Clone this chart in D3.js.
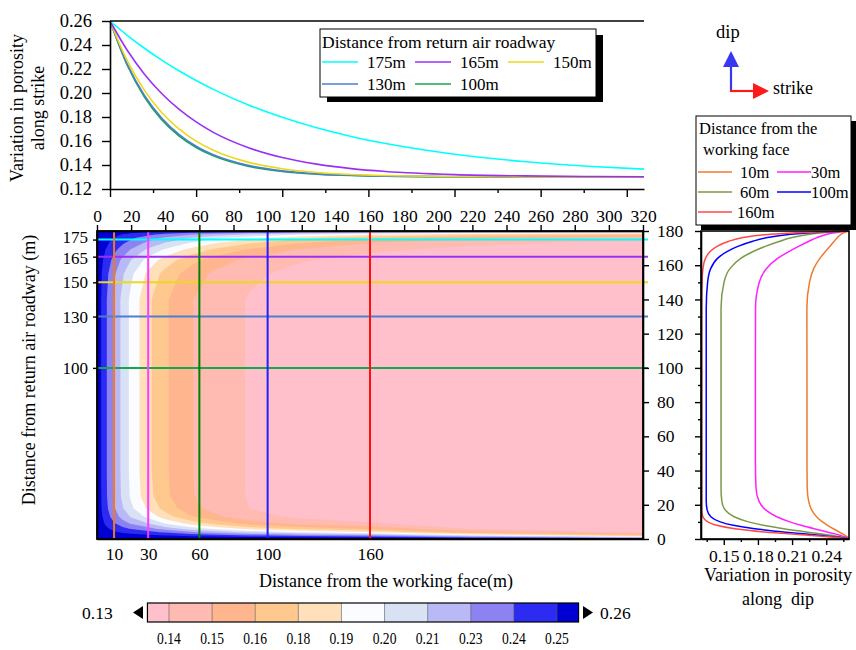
<!DOCTYPE html>
<html>
<head>
<meta charset="utf-8">
<script src="https://cdn.jsdelivr.net/npm/d3@7"></script>
<style>
  body { margin: 0; background: #fff; }
  text { font-family: "Liberation Serif", "Times New Roman", serif; fill: #000; }
</style>
</head>
<body>
<svg id="chart" width="856" height="650"></svg>
<script>
// ---- data ----
// porosity along strike (top panel), x = distance from working face (m)
var strikeX = [0, 10, 20, 30, 40, 50, 60, 80, 100, 120, 140, 160, 200, 240, 280, 310];
var strike175 = [.26, .2481, .2373, .2274, .2185, .2104, .2030, .1902, .1797, .1710, .1638, .1579, .1490, .1429, .1388, .1366];
var strike165 = [.26, .2356, .2157, .1996, .1865, .1759, .1672, .1546, .1462, .1407, .1370, .1346, .1320, .1309, .1304, .1302];
var strike150 = [.26, .2269, .2022, .1838, .1701, .1599, .1523, .1424, .1369, .1338, .1321, .1312, .1304, .1301, .1300, .1300];
var strike130 = [.26, .2240, .1979, .1791, .1655, .1556, .1485, .1397, .1351, .1326, .1314, .1307, .1302, .1300, .1300, .1300];
var strike100 = [.26, .2231, .1967, .1778, .1643, .1546, .1476, .1390, .1346, .1324, .1312, .1306, .1302, .1300, .1300, .1300];

// porosity along dip (right panel), y = distance from return air roadway (m)
var dipY = [0, 1, 2, 3, 4, 6, 8, 10, 13, 17, 22, 30, 45, 90, 135, 150, 158, 164, 168, 171, 174, 176, 178, 179, 180];
var dip10  = [.26, .2589, .2568, .2544, .2517, .2463, .2412, .2367, .2315, .2272, .2246, .2233, .2231, .2231, .2230, .2253, .2290, .2344, .2393, .2431, .2470, .2496, .2529, .2555, .26];
var dip30  = [.26, .2575, .2529, .2476, .2416, .2294, .2180, .2081, .1965, .1868, .1810, .1783, .1778, .1778, .1779, .1812, .1874, .1973, .2072, .2157, .2248, .2312, .2400, .2474, .26];
var dip60  = [.26, .2547, .2455, .2349, .2237, .2026, .1849, .1717, .1591, .1513, .1483, .1476, .1476, .1476, .1476, .1502, .1554, .1649, .1758, .1865, .1992, .2091, .2239, .2370, .26];
var dip100 = [.26, .2511, .2365, .2202, .2043, .1772, .1584, .1469, .1386, .1354, .1346, .1346, .1346, .1346, .1346, .1358, .1385, .1445, .1528, .1624, .1755, .1873, .2070, .2259, .26];
var dip160 = [.26, .2475, .2277, .2070, .1881, .1598, .1437, .1359, .1317, .1306, .1306, .1306, .1306, .1306, .1306, .1309, .1317, .1339, .1380, .1441, .1545, .1659, .1890, .2136, .26];

// porosity field for the contour map: rows = gridY, columns = gridX
var gridX = [0, 2, 5, 10, 15, 20, 30, 40, 55, 70, 90, 120, 160, 220, 320];
var gridY = [0, 1, 2, 4, 6, 9, 13, 18, 25, 40, 140, 155, 163, 169, 173, 176, 178, 179, 180];
var porosityGrid = [
  [.26, .26, .26, .26, .26, .26, .26, .26, .26, .26, .26, .26, .26, .26, .26],
  [.26, .2597, .2594, .2589, .2584, .2580, .2575, .2566, .2552, .2540, .2521, .2499, .2476, .2362, .2159],
  [.26, .2593, .2583, .2568, .2556, .2546, .2529, .2505, .2469, .2437, .2389, .2336, .2278, .2033, .1703],
  [.26, .2581, .2555, .2517, .2485, .2458, .2416, .2355, .2270, .2195, .2091, .1986, .1881, .1558, .1347],
  [.26, .2569, .2526, .2463, .2410, .2365, .2294, .2198, .2071, .1966, .1830, .1707, .1599, .1367, .1303],
  [.26, .2552, .2485, .2388, .2306, .2237, .2128, .1995, .1831, .1708, .1571, .1463, .1390, .1306, .1300],
  [.26, .2535, .2446, .2315, .2205, .2111, .1965, .1811, .1640, .1525, .1420, .1351, .1317, .1301, .1300],
  [.26, .2524, .2418, .2264, .2134, .2024, .1851, .1699, .1543, .1447, .1373, .1326, .1307, .1301, .1300],
  [.26, .2518, .2404, .2238, .2098, .1979, .1794, .1652, .1512, .1428, .1365, .1324, .1306, .1301, .1300],
  [.26, .2516, .2400, .2231, .2088, .1967, .1778, .1643, .1508, .1426, .1365, .1324, .1306, .1301, .1300],
  [.26, .2516, .2400, .2231, .2088, .1967, .1778, .1643, .1508, .1426, .1365, .1324, .1306, .1301, .1300],
  [.26, .2527, .2424, .2272, .2141, .2027, .1844, .1706, .1563, .1470, .1395, .1340, .1312, .1302, .1300],
  [.26, .2542, .2459, .2334, .2222, .2122, .1953, .1819, .1668, .1561, .1465, .1383, .1333, .1308, .1301],
  [.26, .2558, .2499, .2405, .2319, .2240, .2099, .1979, .1832, .1717, .1602, .1485, .1397, .1337, .1307],
  [.26, .2570, .2527, .2457, .2392, .2330, .2218, .2117, .1987, .1877, .1758, .1624, .1505, .1404, .1335],
  [.26, .2578, .2547, .2496, .2447, .2400, .2312, .2232, .2124, .2029, .1920, .1788, .1659, .1532, .1424],
  [.26, .2585, .2564, .2529, .2495, .2462, .2400, .2343, .2263, .2192, .2108, .2001, .1890, .1772, .1658],
  [.26, .2591, .2577, .2555, .2534, .2514, .2474, .2438, .2386, .2340, .2284, .2212, .2136, .2051, .1965],
  [.26, .26, .26, .26, .26, .26, .26, .26, .26, .26, .26, .26, .26, .26, .26]
];

// contour levels and colour bar
var levels = [0.1375, 0.15, 0.1625, 0.175, 0.1875, 0.20, 0.2125, 0.225, 0.2375, 0.25];
var levelLabels = ["0.14", "0.15", "0.16", "0.18", "0.19", "0.20", "0.21", "0.23", "0.24", "0.25"];
var bandColors = ["#ffc0cb", "#ffbbb1", "#ffb68f", "#ffc88f", "#ffe0ba", "#fbfcff", "#d9e1f5", "#b9b9f5", "#8c82f2", "#2b2bf2", "#0000d2"];

// marked sections
var roadwayDist = [175, 165, 150, 130, 100];
var roadwayColors = ["#00ffff", "#9b30f5", "#ecd81c", "#4a7fd2", "#14a84a"];
var faceDist = [10, 30, 60, 100, 160];
var faceLineColors = ["#f07a1e", "#ff3cff", "#008000", "#2020ff", "#ff1010"];
var dipColors = ["#f07a30", "#ff20ff", "#7a9a48", "#0000ff", "#ff4848"];

var strikeSeries = [strike175, strike165, strike150, strike130, strike100];
var dipSeries = [dip10, dip30, dip60, dip100, dip160];

// ---- drawing ----
var svg = d3.select("#chart");
var serif = '"Liberation Serif", "Times New Roman", serif';

var mx = d3.scaleLinear().domain([0, 320]).range([97, 643]);
var my = d3.scaleLinear().domain([0, 180]).range([539, 231]);
var tx = d3.scaleLinear().domain([0, 310]).range([110, 644]);
var ty = d3.scaleLinear().domain([0.12, 0.26]).range([189, 21]);
var rx = d3.scaleLinear().domain([0.13, 0.26]).range([701, 849]);

function styleAxis(g, size) {
  g.attr("font-family", serif);
  g.selectAll("path.domain").attr("stroke", "#000").attr("stroke-width", 1.6);
  g.selectAll(".tick line").attr("stroke", "#000").attr("stroke-width", 1.4);
  g.selectAll(".tick text").attr("font-size", size || 17.5)
    .style("font-family", serif).attr("fill", "#000");
}

// contour map
svg.append("clipPath").attr("id", "mainClip")
  .append("rect").attr("x", 97).attr("y", 231).attr("width", 546).attr("height", 308);

var ix = d3.scaleLinear().domain(d3.range(gridX.length)).range(gridX).clamp(true);
var iy = d3.scaleLinear().domain(d3.range(gridY.length)).range(gridY).clamp(true);
var gridPath = d3.geoPath(d3.geoTransform({
  point: function (px, py) { this.stream.point(mx(ix(px - 0.5)), my(iy(py - 0.5))); }
}));

var bands = d3.contours()
  .size([gridX.length, gridY.length])
  .thresholds(levels)(porosityGrid.flat());

var mapG = svg.append("g").attr("clip-path", "url(#mainClip)");
mapG.append("rect").attr("x", 97).attr("y", 231).attr("width", 546).attr("height", 308)
  .attr("fill", bandColors[0]);
mapG.selectAll("path.band").data(bands).enter().append("path")
  .attr("class", "band")
  .attr("d", gridPath)
  .attr("fill-rule", "evenodd")
  .attr("fill", function (d, i) { return bandColors[i + 1]; });

// section lines on the map
svg.selectAll("line.hsec").data(roadwayDist).enter().append("line")
  .attr("class", "hsec")
  .attr("x1", mx(0)).attr("x2", mx(320) + 5)
  .attr("y1", function (d) { return my(d); }).attr("y2", function (d) { return my(d); })
  .attr("stroke", function (d, i) { return roadwayColors[i]; })
  .attr("stroke-width", 2);
svg.selectAll("line.vsec").data(faceDist).enter().append("line")
  .attr("class", "vsec")
  .attr("x1", function (d) { return mx(d); }).attr("x2", function (d) { return mx(d); })
  .attr("y1", my(180)).attr("y2", my(0))
  .attr("stroke", function (d, i) { return faceLineColors[i]; })
  .attr("stroke-width", 2);

// main axes
var gTop = svg.append("g").attr("transform", "translate(0," + my(180) + ")")
  .call(d3.axisTop(mx).tickValues(d3.range(0, 321, 20)).tickSize(6).tickSizeOuter(0).tickPadding(3));
styleAxis(gTop);
var gBot = svg.append("g").attr("transform", "translate(0," + my(0) + ")")
  .call(d3.axisBottom(mx).tickValues(faceDist).tickSize(0).tickSizeOuter(0).tickPadding(9));
styleAxis(gBot);
var gLeft = svg.append("g").attr("transform", "translate(" + mx(0) + ",0)")
  .call(d3.axisLeft(my).tickValues(roadwayDist).tickSize(4).tickSizeOuter(0).tickPadding(5));
styleAxis(gLeft, 17);
gLeft.selectAll(".tick text").attr("dy", function (d) { return d === 175 ? "0.2em" : d === 165 ? "0.42em" : "0.32em"; });
var gRight = svg.append("g").attr("transform", "translate(" + mx(320) + ",0)")
  .call(d3.axisRight(my).tickValues(d3.range(0, 181, 20)).tickSize(6).tickSizeOuter(0).tickPadding(8));
styleAxis(gRight);

svg.append("text").attr("x", 386).attr("y", 587).attr("text-anchor", "middle")
  .attr("font-size", 18).text("Distance from the working face(m)");
svg.append("text").attr("transform", "translate(35,370) rotate(-90)").attr("text-anchor", "middle")
  .attr("font-size", 18).text("Distance from return air roadway (m)");

// top panel: along strike
var strikeLine = d3.line()
  .x(function (d, i) { return tx(strikeX[i]); })
  .y(function (d) { return ty(d); })
  .curve(d3.curveMonotoneX);
svg.selectAll("path.strike").data(strikeSeries.slice().reverse()).enter().append("path")
  .attr("class", "strike")
  .attr("d", strikeLine)
  .attr("fill", "none")
  .attr("stroke-width", 1.6)
  .attr("stroke", function (d, i) { return roadwayColors[roadwayColors.length - 1 - i]; });

var gtl = svg.append("g").attr("transform", "translate(" + tx(0) + ",0)")
  .call(d3.axisLeft(ty).tickValues(d3.range(0.12, 0.2601, 0.02)).tickFormat(d3.format(".2f"))
    .tickSize(8).tickSizeOuter(0).tickPadding(10));
styleAxis(gtl, 18.5);
var gtb = svg.append("g").attr("transform", "translate(0," + ty(0.12) + ")")
  .call(d3.axisBottom(tx).tickValues(d3.range(0, 311, 25)).tickFormat("").tickSizeOuter(0));
styleAxis(gtb);
gtb.selectAll(".tick line").attr("y2", function (d) { return d % 50 === 0 ? 8 : 4; });
svg.append("line").attr("x1", tx(0)).attr("x2", tx(310)).attr("y1", ty(0.26)).attr("y2", ty(0.26))
  .attr("stroke", "#000").attr("stroke-width", 1.6);

svg.append("text").attr("transform", "translate(23,108) rotate(-90)").attr("text-anchor", "middle")
  .attr("font-size", 18).text("Variation in porosity");
svg.append("text").attr("transform", "translate(44,108) rotate(-90)").attr("text-anchor", "middle")
  .attr("font-size", 18).text("along strike");

// top legend
var lg = svg.append("g");
lg.append("rect").attr("x", 327).attr("y", 35).attr("width", 276).attr("height", 67).attr("fill", "#000");
lg.append("rect").attr("x", 320).attr("y", 29).attr("width", 276).attr("height", 68)
  .attr("fill", "#fff").attr("stroke", "#000").attr("stroke-width", 1);
lg.append("text").attr("x", 322).attr("y", 48).attr("font-size", 17.5).text("Distance from return air roadway");
var legPos = [[322, 62], [415, 62], [508, 62], [322, 84], [415, 84]];
roadwayDist.forEach(function (d, i) {
  var p = legPos[i];
  lg.append("line").attr("x1", p[0]).attr("x2", p[0] + 36).attr("y1", p[1]).attr("y2", p[1])
    .attr("stroke", roadwayColors[i]).attr("stroke-width", 1.6);
  lg.append("text").attr("x", p[0] + 45).attr("y", p[1] + 5.5).attr("font-size", 17).text(d + "m");
});

// compass
svg.append("line").attr("x1", 731).attr("x2", 731).attr("y1", 92).attr("y2", 64)
  .attr("stroke", "#3838f0").attr("stroke-width", 2.2);
svg.append("path").attr("d", "M731,51L723,67L739,67Z").attr("fill", "#3838f0");
svg.append("line").attr("x1", 730).attr("x2", 756).attr("y1", 91).attr("y2", 91)
  .attr("stroke", "#ff1a1a").attr("stroke-width", 2.2);
svg.append("path").attr("d", "M769,91L753,83L753,99Z").attr("fill", "#ff1a1a");
svg.append("text").attr("x", 716).attr("y", 38).attr("font-size", 18.5).text("dip");
svg.append("text").attr("x", 773).attr("y", 94).attr("font-size", 18).text("strike");

// right panel: along dip
var dipLine = d3.line()
  .x(function (d) { return rx(d); })
  .y(function (d, i) { return my(dipY[i]); })
  .curve(d3.curveMonotoneY);
svg.selectAll("path.dip").data(dipSeries).enter().append("path")
  .attr("class", "dip")
  .attr("d", dipLine)
  .attr("fill", "none")
  .attr("stroke-width", 1.5)
  .attr("stroke", function (d, i) { return dipColors[i]; });

svg.append("rect").attr("x", rx(0.13)).attr("y", my(180)).attr("width", rx(0.26) - rx(0.13))
  .attr("height", my(0) - my(180)).attr("fill", "none").attr("stroke", "#000").attr("stroke-width", 1.6);
var grl = svg.append("g").attr("transform", "translate(" + rx(0.13) + ",0)")
  .call(d3.axisLeft(my).tickValues(d3.range(0, 181, 10)).tickFormat("").tickSizeOuter(0));
styleAxis(grl);
grl.selectAll(".tick line").attr("x2", function (d) { return d % 20 === 0 ? -6 : -3; });
var grb = svg.append("g").attr("transform", "translate(0," + my(0) + ")")
  .call(d3.axisBottom(rx).tickValues([0.135, 0.15, 0.165, 0.18, 0.195, 0.21, 0.225, 0.24, 0.255])
    .tickFormat(function (d) { return [0.15, 0.18, 0.21, 0.24].some(function (v) { return Math.abs(v - d) < 1e-6; }) ? d3.format(".2f")(d) : ""; })
    .tickSizeOuter(0).tickPadding(5));
styleAxis(grb, 17.5);
grb.selectAll(".tick line").attr("y2", function (d, i) { return i % 2 === 1 ? 6 : 3; });

svg.append("text").attr("x", 778).attr("y", 581).attr("text-anchor", "middle")
  .attr("font-size", 18).text("Variation in porosity");
svg.append("text").attr("x", 778).attr("y", 605).attr("text-anchor", "middle")
  .attr("font-size", 18).attr("xml:space", "preserve").text("along  dip");

// right legend
var rg = svg.append("g");
rg.append("rect").attr("x", 701).attr("y", 121).attr("width", 155).attr("height", 109).attr("fill", "#000");
rg.append("rect").attr("x", 696).attr("y", 116).attr("width", 155).attr("height", 109)
  .attr("fill", "#fff").attr("stroke", "#000").attr("stroke-width", 1);
rg.append("text").attr("x", 699).attr("y", 134).attr("font-size", 16.5).text("Distance from the");
rg.append("text").attr("x", 703).attr("y", 155).attr("font-size", 16.5).text("working face");
var rlegPos = [[698, 172, 740], [777, 172, 811], [698, 192, 740], [777, 192, 811], [698, 212, 737]];
faceDist.forEach(function (d, i) {
  var p = rlegPos[i];
  rg.append("line").attr("x1", p[0]).attr("x2", p[0] + 34).attr("y1", p[1]).attr("y2", p[1])
    .attr("stroke", dipColors[i]).attr("stroke-width", 1.5);
  rg.append("text").attr("x", p[2]).attr("y", p[1] + 5.5).attr("font-size", 16.5).text(d + "m");
});

// colour bar
var cb = d3.scaleLinear().domain([0, levels.length - 1]).range([169, 557]);
var cbY = 603, cbH = 19;
var cbG = svg.append("g");
cbG.selectAll("rect.seg").data(bandColors).enter().append("rect")
  .attr("class", "seg")
  .attr("x", function (d, i) { return cb(i === 0 ? -0.5 : i - 1); })
  .attr("width", function (d, i) {
    var a = cb(i === 0 ? -0.5 : i - 1), b = cb(i === bandColors.length - 1 ? levels.length - 0.5 : i);
    return b - a;
  })
  .attr("y", cbY).attr("height", cbH)
  .attr("fill", function (d) { return d; });
cbG.selectAll("line.sep").data(levels).enter().append("line")
  .attr("x1", function (d, i) { return cb(i); }).attr("x2", function (d, i) { return cb(i); })
  .attr("y1", cbY).attr("y2", cbY + cbH).attr("stroke", "#555").attr("stroke-width", 0.6);
cbG.append("rect").attr("x", cb(-0.5)).attr("y", cbY).attr("width", cb(levels.length - 0.5) - cb(-0.5))
  .attr("height", cbH).attr("fill", "none").attr("stroke", "#000").attr("stroke-width", 1.2);
cbG.selectAll("text.lv").data(levelLabels).enter().append("text")
  .attr("transform", function (d, i) { return "translate(" + cb(i) + ",644) scale(0.8,1)"; })
  .attr("text-anchor", "middle").attr("font-size", 17).text(function (d) { return d; });
cbG.append("path").attr("d", "M133,612.5L143,606L143,619Z").attr("fill", "#000");
cbG.append("path").attr("d", "M593,612.5L583,606L583,619Z").attr("fill", "#000");
cbG.append("text").attr("x", 82).attr("y", 619).attr("font-size", 17.5).text("0.13");
cbG.append("text").attr("x", 600).attr("y", 619).attr("font-size", 17.5).text("0.26");

// frame of the map on top
svg.append("rect").attr("x", 97).attr("y", 231).attr("width", 546).attr("height", 308)
  .attr("fill", "none").attr("stroke", "#000").attr("stroke-width", 1.8);
</script>
</body>
</html>
